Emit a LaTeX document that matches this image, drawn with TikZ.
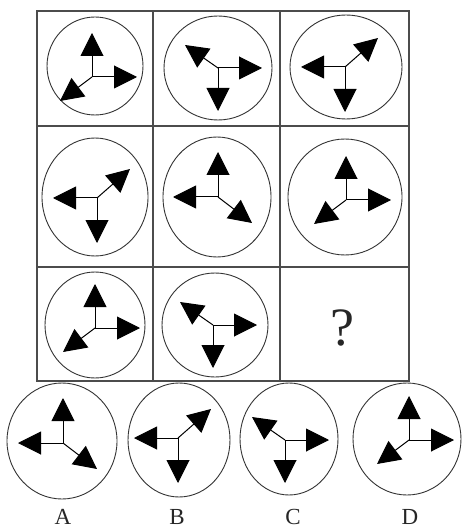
\documentclass[tikz,border=0pt]{standalone}
\usepackage{fontspec}
\setmainfont{Liberation Serif}
\usetikzlibrary{arrows.meta}
\begin{document}
\begin{tikzpicture}[x=1pt,y=-1pt,
  gridline/.style={draw=black!70,line width=1.4pt},
  ring/.style={draw=black!80,line width=0.9pt},
  arr/.style={-{Triangle[length=23pt,width=23pt]},line width=1pt,black},
  lbl/.style={font=\fontsize{23}{23}\selectfont,text=black!85},
  tA/.pic={\draw[arr] (0,0) -- (0,-44); \draw[arr] (0,0) -- (45,0); \draw[arr] (0,0) -- (-32,24);},
  tB/.pic={\draw[arr] (0,0) -- (-33,-23); \draw[arr] (0,0) -- (44,0); \draw[arr] (0,0) -- (0,43);},
  tC/.pic={\draw[arr] (0,0) -- (-44,0); \draw[arr] (0,0) -- (33,-29); \draw[arr] (0,0) -- (0,45);},
  tD/.pic={\draw[arr] (0,0) -- (0,-45); \draw[arr] (0,0) -- (-45,0); \draw[arr] (0,0) -- (34,26);}
]
\useasboundingbox (0,0) rectangle (464,529);
% grid
\draw[gridline] (37,11) rectangle (409,381);
\draw[gridline] (153,11) -- (153,381);
\draw[gridline] (280,11) -- (280,381);
\draw[gridline] (37,126) -- (409,126);
\draw[gridline] (37,267) -- (409,267);
% row 1
\draw[ring] (95,66) ellipse [x radius=48,y radius=49];
\pic at (92,77) {tA};
\draw[ring] (218,68) ellipse [x radius=54,y radius=52];
\pic at (218,68) {tB};
\draw[ring] (346,67) ellipse [x radius=56,y radius=52];
\pic at (345,67) {tC};
% row 2
\draw[ring] (95,197) ellipse [x radius=53,y radius=59];
\pic at (97,198) {tC};
\draw[ring] (217,197) ellipse [x radius=54,y radius=60];
\pic at (218,197) {tD};
\draw[ring] (345,197) ellipse [x radius=57,y radius=58];
\pic at (346,200) {tA};
% row 3
\draw[ring] (95,325) ellipse [x radius=50,y radius=53];
\pic at (95,328) {tA};
\draw[ring] (215,325) ellipse [x radius=53,y radius=52];
\pic at (213,325) {tB};
\node[font=\fontsize{54}{54}\selectfont,text=black!85] (q) at (342,328) {?};
% options
\draw[ring] (62,441) ellipse [x radius=55,y radius=58];
\pic at (63,443) {tD};
\draw[ring] (179,440) ellipse [x radius=51,y radius=57];
\pic at (178,438) {tC};
\draw[ring] (289,439) ellipse [x radius=49,y radius=56];
\pic at (285,440) {tB};
\draw[ring] (407,439) ellipse [x radius=54,y radius=56];
\pic at (409,440) {tA};
\node[lbl] (la) at (63,517) {A};
\node[lbl] (lb) at (177,517) {B};
\node[lbl] (lc) at (293,517) {C};
\node[lbl] (ld) at (410,517) {D};
\end{tikzpicture}
\end{document}
